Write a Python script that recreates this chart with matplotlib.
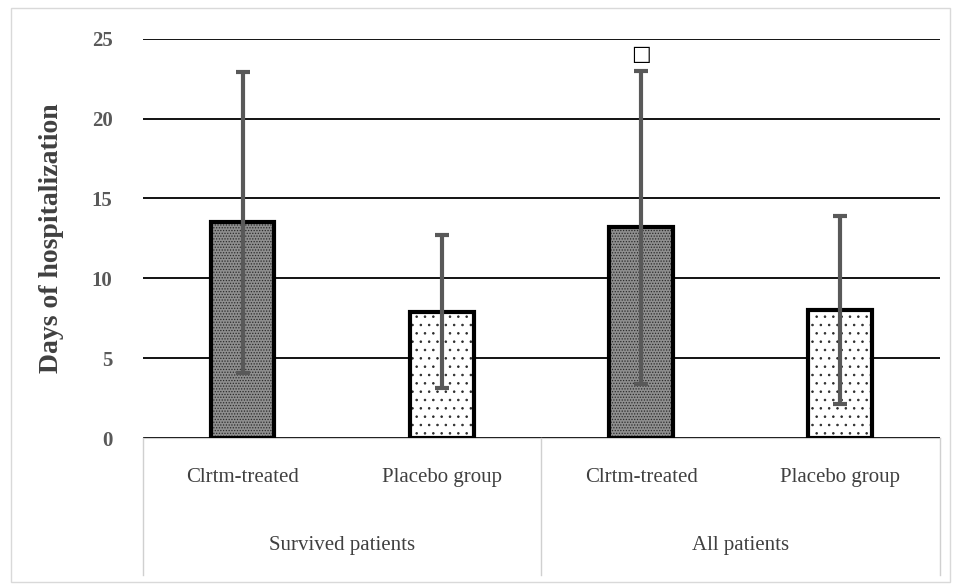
import matplotlib.pyplot as plt
import matplotlib.patches as mpatches
import numpy as np

plt.rcParams['font.family'] = ['Liberation Serif', 'DejaVu Sans']
plt.rcParams['hatch.linewidth'] = 0.6

categories = ["Clrtm-treated", "Placebo group", "Clrtm-treated", "Placebo group"]
groups = ["Survived patients", "All patients"]
means = [13.5, 7.9, 13.2, 8.0]
sds = [9.4, 4.8, 9.8, 5.9]
marks = ["", "", "\u25a1", ""]

fig = plt.figure(figsize=(9.57, 5.84), dpi=100)
ax = fig.add_axes([0.1494, 0.25, 0.8328, 0.6838])

x = np.arange(len(categories))
fills = ['#8f8f8f', 'white', '#8f8f8f', 'white']
hatches = ['......', '..', '......', '..']

# fill with hatch first, then outline on top
ax.bar(x, means, width=0.32, color=fills, hatch=hatches, edgecolor='#2a2a2a', linewidth=0, zorder=2)
ax.bar(x, means, width=0.32, fill=False, edgecolor='black', linewidth=3, zorder=3)
ax.errorbar(x, means, yerr=sds, fmt='none', ecolor='#595959', elinewidth=3,
            capsize=5, capthick=3, zorder=4)

for xi, m, s, t in zip(x, means, sds, marks):
    if t:
        ax.text(xi, m + s + 0.4, t, ha='center', va='bottom', fontsize=15,
                family='DejaVu Sans', color='black')

ax.set_xlim(-0.5, 3.5)
ax.set_ylim(0, 25)
ax.set_yticks([0, 5, 10, 15, 20, 25])
ax.yaxis.grid(True, color='black', linewidth=1.3, zorder=0)
ax.set_axisbelow(True)
ax.tick_params(axis='y', length=0, pad=22, labelsize=15, labelcolor='#595959')
for lab in ax.get_yticklabels():
    lab.set_fontweight('bold')
ax.set_xticks([])
for s in ['top', 'right', 'left']:
    ax.spines[s].set_visible(False)
ax.spines['bottom'].set_color('#d0d0d0')
ax.set_ylabel("Days of hospitalization", fontsize=20, fontweight='bold',
              color='#404040', labelpad=20)

# two-level category axis
trans = ax.get_xaxis_transform()
for xi, c in zip(x, categories):
    ax.text(xi, -0.1, c, transform=trans, ha='center', va='center',
            fontsize=15, color='#404040')
for gi, g in enumerate(groups):
    ax.text(gi * 2 + 0.5, -0.268, g, transform=trans, ha='center', va='center',
            fontsize=15, color='#404040')
for xs in [-0.5, 1.5, 3.5]:
    ax.plot([xs, xs], [0, -0.343], transform=trans, color='#d0d0d0',
            linewidth=1, clip_on=False)

fig.patches.append(mpatches.Rectangle((0.011, 0.004), 0.982, 0.983, transform=fig.transFigure,
                                      fill=False, edgecolor='#d9d9d9', linewidth=1))

fig.savefig('out.png', dpi=100)
